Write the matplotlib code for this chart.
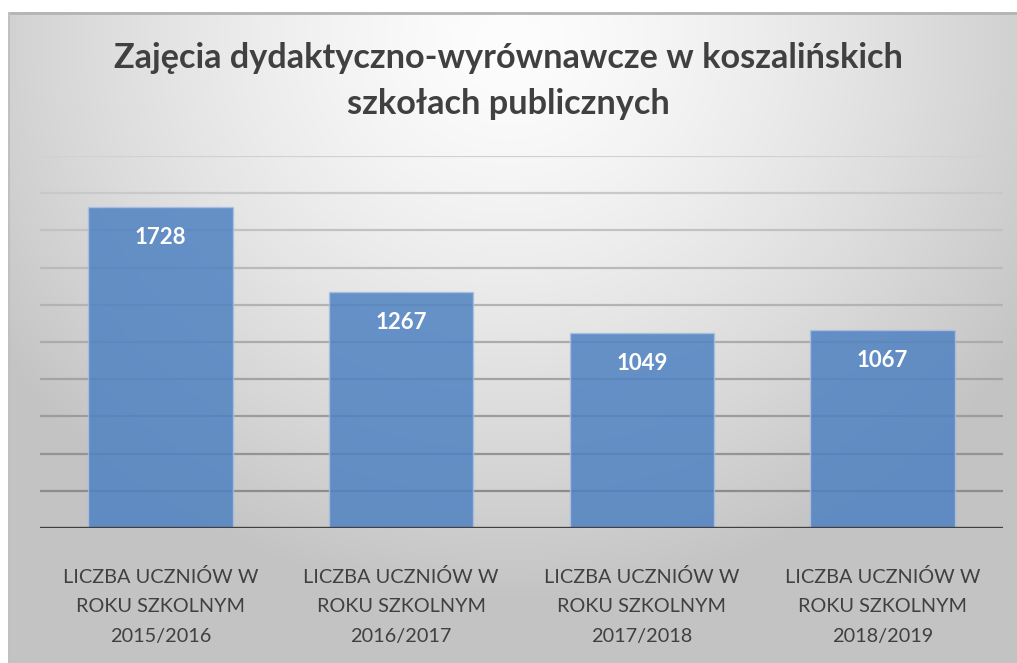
import numpy as np
import matplotlib.pyplot as plt

plt.rcParams['font.family'] = ['Lato', 'DejaVu Sans']

# data
categories = ["LICZBA UCZNIÓW W\nROKU SZKOLNYM\n2015/2016",
              "LICZBA UCZNIÓW W\nROKU SZKOLNYM\n2016/2017",
              "LICZBA UCZNIÓW W\nROKU SZKOLNYM\n2017/2018",
              "LICZBA UCZNIÓW W\nROKU SZKOLNYM\n2018/2019"]
values = [1728, 1267, 1049, 1067]
title = "Zajęcia dydaktyczno-wyrównawcze w koszalińskich\nszkołach publicznych"
grid_ticks = list(range(200, 2001, 200))

W, H = 1017, 663
fig = plt.figure(figsize=(W / 100, H / 100), dpi=100)
fig.patch.set_facecolor('white')

# gray gradient background (light at top centre, darker at the edges)
bg = fig.add_axes([8 / W, 0, 1 - 8 / W, (H - 12) / H])
yy, xx = np.mgrid[0:651, 0:1009]
d = np.sqrt(((xx - 500) / 620.0) ** 2 + ((yy - 30) / 560.0) ** 2)
shade = 253 - 58 * np.clip(d, 0, 1) ** 1.4
img = np.dstack([shade, shade, shade]) / 255.0
bg.imshow(img, aspect='auto', interpolation='bilinear')
bg.axhline(0, color='#b4b4b4', lw=2)
bg.axvline(0, color='#c0c0c0', lw=1.5)
bg.set_axis_off()

# plot area
ax = fig.add_axes([40 / W, (H - 528) / H, 963 / W, 372 / H])
ax.set_facecolor('none')
x = np.arange(len(values))
ax.set_xlim(-0.5, len(values) - 0.5)
ax.set_ylim(0, 2000)

# gridlines get lighter toward the top
for v in grid_ticks:
    t = v / 2000.0
    g = 0.52 + 0.30 * t
    ax.axhline(v, color=(g, g, g), lw=1.6, zorder=1)

bars = ax.bar(x, values, width=0.6, color='#4f82c2', alpha=0.85,
              edgecolor='#a9c1e2', linewidth=1.0, zorder=2)
ax.axhline(0, color='#404040', lw=2.4, zorder=3)

for xi, v in zip(x, values):
    ax.annotate(str(v), (xi, v), xytext=(0, -22), textcoords='offset points',
                ha='center', va='center', color='white', fontsize=16,
                fontweight='bold', zorder=4)

ax.set_xticks(x)
ax.set_xticklabels(categories, fontsize=14.3, color='#404040', linespacing=1.92)
ax.tick_params(axis='x', length=0, pad=28.5)
ax.set_yticks([])
for s in ax.spines.values():
    s.set_visible(False)

fig.text(0.5, 1 - 81 / H, title, ha='center', va='center', fontsize=24.7,
         fontweight='bold', color='#404040', linespacing=1.55)

fig.savefig('out.png', dpi=100)
